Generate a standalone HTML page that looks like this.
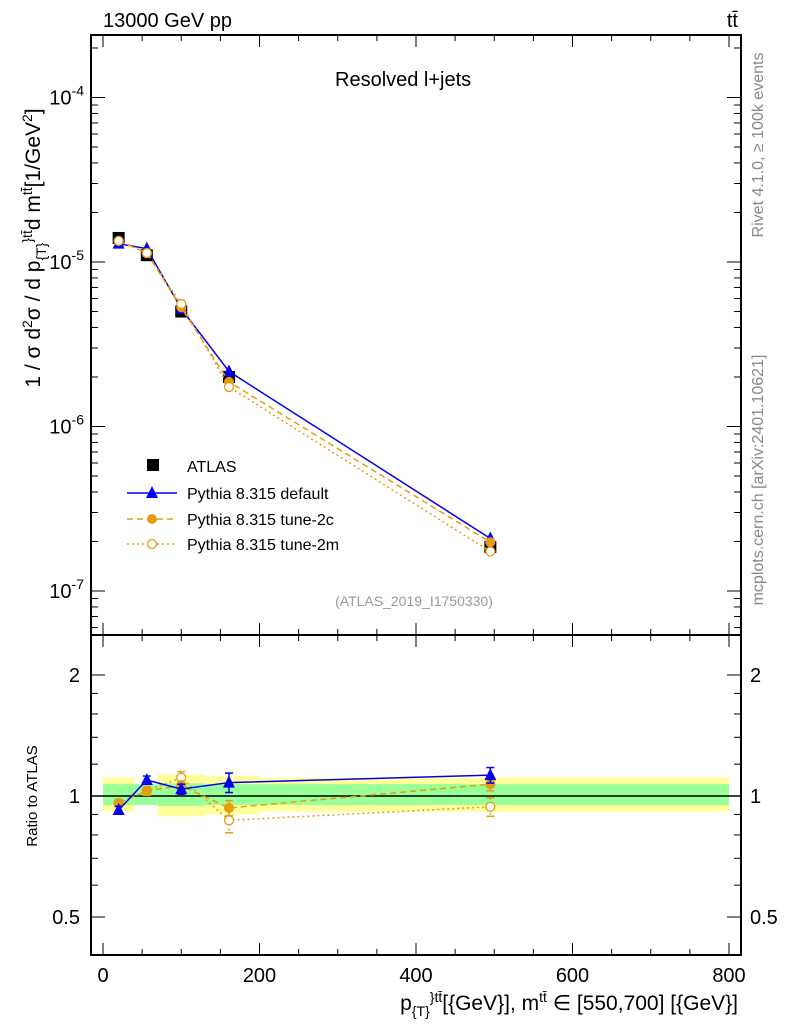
<!DOCTYPE html>
<html><head><meta charset="utf-8"><style>
body{margin:0;background:#fff;font-family:"Liberation Sans",sans-serif}
svg text{font-family:"Liberation Sans","DejaVu Sans",sans-serif}
</style></head><body>
<svg id="c" width="786" height="1024" xmlns="http://www.w3.org/2000/svg"></svg>
<script>
const xs=[20,56,100,161,495];
const binEdges=[0,40,70,130,200,800];
const atlas=[1.4e-5,1.1e-5,5.0e-6,2.0e-6,1.85e-7];
const rDefault=[0.923,1.096,1.04,1.08,1.127];
const r2c=[0.96,1.03,1.06,0.934,1.07];
const r2m=[0.96,1.03,1.11,0.87,0.94];
const errDefault=[0.02,0.025,0.03,0.06,0.05];
const err2c=[0.02,0.025,0.03,0.04,0.04];
const err2m=[0.02,0.025,0.04,0.06,0.05];
const yellowLo=[0.915,0.96,0.89,0.9,0.915];
const yellowHi=[1.11,1.04,1.13,1.12,1.11];
const greenLo=[0.95,0.95,0.945,0.95,0.95];
const greenHi=[1.07,1.07,1.075,1.07,1.07];
const xTicks=[0,200,400,600,800];
const NS='http://www.w3.org/2000/svg';
const svg=document.getElementById('c');
const L=91,R=741,T=35,MB=635,RB=955;
const X=v=>103+v*0.7825;
const Y=v=>262-164.5*(Math.log10(v)+5);
const YR=r=>796-121*Math.log2(r);
function el(t,a,p){const e=document.createElementNS(NS,t);for(const k in a)e.setAttribute(k,a[k]);(p||svg).appendChild(e);return e;}
function txt(s,x,y,a,p){const e=el('text',Object.assign({x:x,y:y,'font-size':20},a||{}),p);e.textContent=s;return e;}
const bands=el('g',{});


for(let i=0;i<5;i++){
 const x0=X(binEdges[i]),x1=X(binEdges[i+1]);
 el('rect',{x:x0,y:YR(yellowHi[i]),width:x1-x0,height:YR(yellowLo[i])-YR(yellowHi[i]),fill:'#ffff99'},bands);
 el('rect',{x:x0,y:YR(greenHi[i]),width:x1-x0,height:YR(greenLo[i])-YR(greenHi[i]),fill:'#99ff99'},bands);
}
el('line',{x1:L,x2:R,y1:YR(1),y2:YR(1),stroke:'#000','stroke-width':1.5});
const f1=el('rect',{x:L,y:T,width:R-L,height:MB-T,fill:'none',stroke:'#000','stroke-width':2});

const f2=el('rect',{x:L,y:MB,width:R-L,height:RB-MB,fill:'none',stroke:'#000','stroke-width':2});

for(let v=0;v<=800;v+=50){
 const big=v%200===0,len=big?12:6;
 for(const [yb,yt] of [[MB,T],[RB,MB]]){
  el('line',{x1:X(v),x2:X(v),y1:yb,y2:yb-len,stroke:'#000'});
  el('line',{x1:X(v),x2:X(v),y1:yt,y2:yt+len,stroke:'#000'});
 }
}
xTicks.forEach(v=>{const t=txt(String(v),X(v),982,{'text-anchor':'middle'});});
for(let d=-8;d<=-4;d++){for(let m=1;m<10;m++){const v=m*Math.pow(10,d);const y=Y(v);if(y<T||y>MB)continue;const len=m===1?14:7;
 el('line',{x1:L,x2:L+len,y1:y,y2:y,stroke:'#000'});el('line',{x1:R,x2:R-len,y1:y,y2:y,stroke:'#000'});}}
[-7,-6,-5,-4].forEach(d=>{const t=el('text',{x:84,y:Y(Math.pow(10,d))+7,'font-size':20,'text-anchor':'end'});t.innerHTML='10<tspan dy="-9" font-size="14">'+d+'</tspan>';});
[0.5,0.6,0.7,0.8,0.9,1,1.2,1.4,1.6,1.8,2].forEach(r=>{const y=YR(r);const big=[0.5,1,2].includes(r);const len=big?14:7;
 el('line',{x1:L,x2:L+len,y1:y,y2:y,stroke:'#000'});el('line',{x1:R,x2:R-len,y1:y,y2:y,stroke:'#000'});});
[[2,'2'],[1,'1'],[0.5,'0.5']].forEach(([r,s])=>{txt(s,80,YR(r)+7,{'text-anchor':'end'});txt(s,750,YR(r)+7);});
function series(vals,color,dash,marker,name,yf,errs){
 const g=el('g',{});
 const pts=xs.map((x,i)=>[X(x),yf(vals[i],i)]);
 if(errs)xs.forEach((x,i)=>{const y1=YR(vals[i]+errs[i]),y2=YR(vals[i]-errs[i]);
  el('line',{x1:X(x),x2:X(x),y1:y1,y2:y2,stroke:color,'stroke-width':1.5,'stroke-dasharray':dash||''},g);
  el('line',{x1:X(x)-4,x2:X(x)+4,y1:y1,y2:y1,stroke:color,'stroke-width':1.5},g);
  el('line',{x1:X(x)-4,x2:X(x)+4,y1:y2,y2:y2,stroke:color,'stroke-width':1.5},g);});
 if(color)el('polyline',{points:pts.map(p=>p.join(',')).join(' '),fill:'none',stroke:color,'stroke-width':1.5,'stroke-dasharray':dash||''},g);
 pts.forEach(p=>marker(p,g));
 return g;
}
const sq=(p,g)=>el('rect',{x:p[0]-6,y:p[1]-6,width:12,height:12,fill:'#000'},g);
const tri=c=>(p,g)=>el('polygon',{points:`${p[0]},${p[1]-7} ${p[0]-6},${p[1]+5} ${p[0]+6},${p[1]+5}`,fill:c},g);
const dot=(p,g)=>el('circle',{cx:p[0],cy:p[1],r:5,fill:'#e69c10'},g);
const ring=(p,g)=>el('circle',{cx:p[0],cy:p[1],r:4.5,fill:'#fff',stroke:'#e69c10','stroke-width':1.3},g);
series(atlas,null,'',sq,'atlas-data',(v)=>Y(v));
series(rDefault,'#0000ee','',tri('#0000ee'),'pythia-default',(r,i)=>Y(r*atlas[i]));
series(r2c,'#e69c10','6,4',dot,'pythia-tune-2c',(r,i)=>Y(r*atlas[i]));
series(r2m,'#e69c10','2,3',ring,'pythia-tune-2m',(r,i)=>Y(r*atlas[i]));
series(r2m,'#e69c10','2,3',ring,'ratio-tune-2m',(r)=>YR(r),err2m);
series(r2c,'#e69c10','6,4',dot,'ratio-tune-2c',(r)=>YR(r),err2c);
series(rDefault,'#0000ee','',tri('#0000ee'),'ratio-default',(r)=>YR(r),errDefault);
const lg=el('g',{});
el('rect',{x:147,y:459,width:12,height:12,fill:'#000'},lg);txt('ATLAS',187,472,{'font-size':16},lg);
el('line',{x1:127,x2:177,y1:493,y2:493,stroke:'#0000ee','stroke-width':1.5},lg);tri('#0000ee')([152,493],lg);txt('Pythia 8.315 default',187,499,{'font-size':16},lg);
el('line',{x1:127,x2:177,y1:519,y2:519,stroke:'#e69c10','stroke-width':1.5,'stroke-dasharray':'6,4'},lg);dot([152,519],lg);txt('Pythia 8.315 tune-2c',187,525,{'font-size':16},lg);
el('line',{x1:127,x2:177,y1:544,y2:544,stroke:'#e69c10','stroke-width':1.5,'stroke-dasharray':'2,3'},lg);ring([152,544],lg);txt('Pythia 8.315 tune-2m',187,550,{'font-size':16},lg);
txt('13000 GeV pp',103,27);
const tt=el('text',{x:738,y:27,'font-size':20,'text-anchor':'end'});tt.textContent='tt̄';
txt('Resolved l+jets',335,86);
txt('(ATLAS_2019_I1750330)',414,606,{'font-size':14,fill:'#999','text-anchor':'middle'});
const yl=el('text',{transform:'translate(40,248) rotate(-90)','font-size':21,'text-anchor':'middle'});
yl.innerHTML='1 / σ d<tspan dy="-8" font-size="14">2</tspan><tspan dy="8">σ /  d p</tspan><tspan dy="6" font-size="14">{T}</tspan><tspan dy="-14" font-size="14">}tt̄</tspan><tspan dy="8">d m</tspan><tspan dy="-8" font-size="14">tt̄</tspan><tspan dy="8">[1/GeV</tspan><tspan dy="-8" font-size="14">2</tspan><tspan dy="8">]</tspan>';

const rl=el('text',{transform:'translate(37,796) rotate(-90)','font-size':15,'text-anchor':'middle'});rl.textContent='Ratio to ATLAS';
const xl=el('text',{x:738,y:1010,'font-size':21,'text-anchor':'end'});
xl.innerHTML='p<tspan dy="6" font-size="14">{T}</tspan><tspan dy="-14" font-size="14">}tt̄</tspan><tspan dy="8">[{GeV}], m</tspan><tspan dy="-8" font-size="14">tt̄</tspan><tspan dy="8"> ∈ [550,700] [{GeV}]</tspan>';

const s1=el('text',{transform:'translate(763,145) rotate(-90)','font-size':16,fill:'#888','text-anchor':'middle'});s1.textContent='Rivet 4.1.0, ≥ 100k events';
const s2=el('text',{transform:'translate(763,480) rotate(-90)','font-size':16,fill:'#888','text-anchor':'middle'});s2.textContent='mcplots.cern.ch [arXiv:2401.10621]';
</script>
</body></html>
